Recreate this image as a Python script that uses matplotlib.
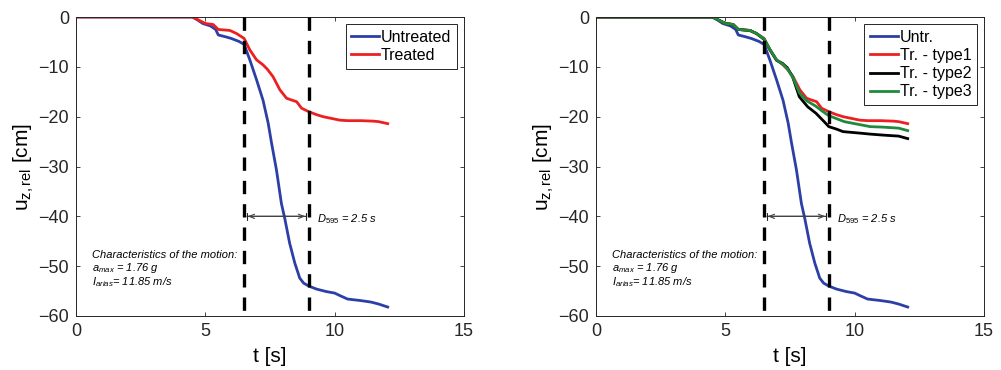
import numpy as np
import matplotlib
matplotlib.use('Agg')
import matplotlib.pyplot as plt

plt.rcParams['font.family'] = ['Liberation Sans', 'DejaVu Sans']
plt.rcParams['mathtext.fontset'] = 'custom'
plt.rcParams['mathtext.rm'] = 'Liberation Sans'
plt.rcParams['mathtext.it'] = 'Liberation Sans:italic'
plt.rcParams['mathtext.default'] = 'regular'

# untreated
t_untr = [0, 4.5, 4.7, 4.9, 5.2, 5.4, 5.5, 5.8, 6.0, 6.3, 6.5, 6.72, 6.98, 7.23, 7.43, 7.56,
          7.75, 7.94, 8.07, 8.26, 8.46, 8.65, 8.8, 9.0, 9.3, 9.68, 10.0, 10.2, 10.5, 11.0,
          11.4, 11.7, 12.05]
u_untr = [0, 0, -0.6, -1.3, -1.8, -2.5, -3.6, -4.0, -4.3, -4.9, -5.5, -8.6, -12.6, -16.7, -21.3, -25.3,
          -30.7, -37.4, -40.4, -45.4, -49.4, -52.4, -53.4, -54, -54.6, -55.1, -55.4, -55.9, -56.6, -56.9,
          -57.2, -57.6, -58.2]

# treated / type1
t_tr1 = [0, 4.5, 4.7, 5.0, 5.3, 5.5, 5.95, 6.2, 6.5, 6.72, 6.98, 7.23, 7.4, 7.62, 7.88, 8.14,
         8.3, 8.53, 8.72, 9.0, 9.3, 9.55, 10.2, 10.5, 11.0, 11.5, 11.7, 12.05]
u_tr1 = [0, 0, -0.5, -1.3, -1.5, -2.5, -2.7, -3.3, -4.3, -6.6, -8.6, -9.6, -10.5, -12, -14.6, -16.3,
         -16.6, -17, -18.3, -19, -19.6, -20, -20.7, -20.8, -20.8, -20.9, -21, -21.4]

# type2
t_tr2 = [0, 4.5, 4.7, 5.0, 5.3, 5.5, 5.95, 6.2, 6.5, 6.72, 6.98, 7.21, 7.4, 7.6, 7.86, 8.18,
         8.5, 8.82, 9.0, 9.3, 9.55, 10.2, 10.6, 11.1, 11.7, 12.05]
u_tr2 = [0, 0, -0.5, -1.3, -1.5, -2.5, -2.7, -3.3, -4.5, -6.5, -8.7, -9.3, -10.2, -12, -16, -18,
         -19.3, -21, -22, -22.5, -23, -23.3, -23.5, -23.7, -23.9, -24.4]

# type3
t_tr3 = [0, 4.5, 4.7, 5.0, 5.3, 5.5, 5.95, 6.2, 6.5, 6.72, 6.98, 7.23, 7.4, 7.62, 7.86, 8.14,
         8.5, 8.75, 9.0, 9.3, 9.6, 10.2, 10.6, 11.1, 11.7, 12.05]
u_tr3 = [0, 0, -0.5, -1.3, -1.5, -2.5, -2.7, -3.3, -4.4, -6.5, -8.6, -9.5, -10.4, -12.2, -15.2, -16.8,
         -17.9, -18.9, -19.8, -20.4, -21, -21.6, -22, -22.1, -22.3, -22.8]

t_start = 6.5
t_end = 9.0

c_blue = '#2b3fa6'
c_red = '#ec2020'
c_black = '#000000'
c_green = '#1f8a3c'


def decorate(ax):
    ax.set_xlim(0, 15)
    ax.set_ylim(-60, 0)
    ax.set_xticks([0, 5, 10, 15])
    ax.set_yticks([-60, -50, -40, -30, -20, -10, 0])
    ax.tick_params(direction='in', top=True, right=True, length=3, width=0.6,
                   labelsize=13, colors='#262626', pad=5)
    for s in ax.spines.values():
        s.set_color('#262626')
        s.set_linewidth(0.7)
    ax.set_xlabel('t [s]', fontsize=15, labelpad=5)
    ax.set_ylabel('u$_{z,rel}$ [cm]', fontsize=15, labelpad=2)
    for tv in (t_start, t_end):
        ax.plot([tv, tv], [0, -59], color='k', lw=2.4, ls=(0, (4, 3)), zorder=3)
    ax.annotate('', xy=(t_start, -40), xytext=(t_end, -40),
                arrowprops=dict(arrowstyle='|-|,widthA=0.25,widthB=0.25', color='#222222', lw=0.8))
    ax.annotate('', xy=(t_start + 0.02, -40), xytext=(t_end - 0.02, -40),
                arrowprops=dict(arrowstyle='<->,head_length=0.4,head_width=0.15', color='#444444', lw=0.8))
    ax.text(9.3, -40.6, r'$\mathit{D_{595}}$ = 2.5 s', fontsize=8, style='italic', va='center')
    ax.text(0.6, -48.4, 'Characteristics of the motion:', fontsize=8, style='italic')
    ax.text(0.6, -50.9, r'$\mathit{a_{max}}$ = 1.76 g', fontsize=8, style='italic')
    ax.text(0.6, -53.9, r'$\mathit{I_{arias}}$= 11.85 m/s', fontsize=8, style='italic')


def add_legend(ax):
    leg = ax.legend(loc='upper right', fontsize=11.5, fancybox=False, edgecolor='#262626',
                    handlelength=1.75, handletextpad=0.1, borderpad=0.35, labelspacing=0.2,
                    borderaxespad=0.45, framealpha=1)
    leg.get_frame().set_linewidth(0.7)


fig = plt.figure(figsize=(10.01, 3.70), dpi=100)
ax1 = fig.add_axes([76 / 1001, 54 / 370, 388 / 1001, 299 / 370])
ax2 = fig.add_axes([596 / 1001, 54 / 370, 388 / 1001, 299 / 370])

ax1.plot(t_untr, u_untr, color=c_blue, lw=2, label='Untreated')
ax1.plot(t_tr1, u_tr1, color=c_red, lw=2, label='Treated')
decorate(ax1)
add_legend(ax1)

ax2.plot(t_untr, u_untr, color=c_blue, lw=2, label='Untr.')
ax2.plot(t_tr1, u_tr1, color=c_red, lw=2, label='Tr. - type1')
ax2.plot(t_tr2, u_tr2, color=c_black, lw=2, label='Tr. - type2')
ax2.plot(t_tr3, u_tr3, color=c_green, lw=2, label='Tr. - type3')
decorate(ax2)
add_legend(ax2)

fig.savefig('out.png', dpi=100)
